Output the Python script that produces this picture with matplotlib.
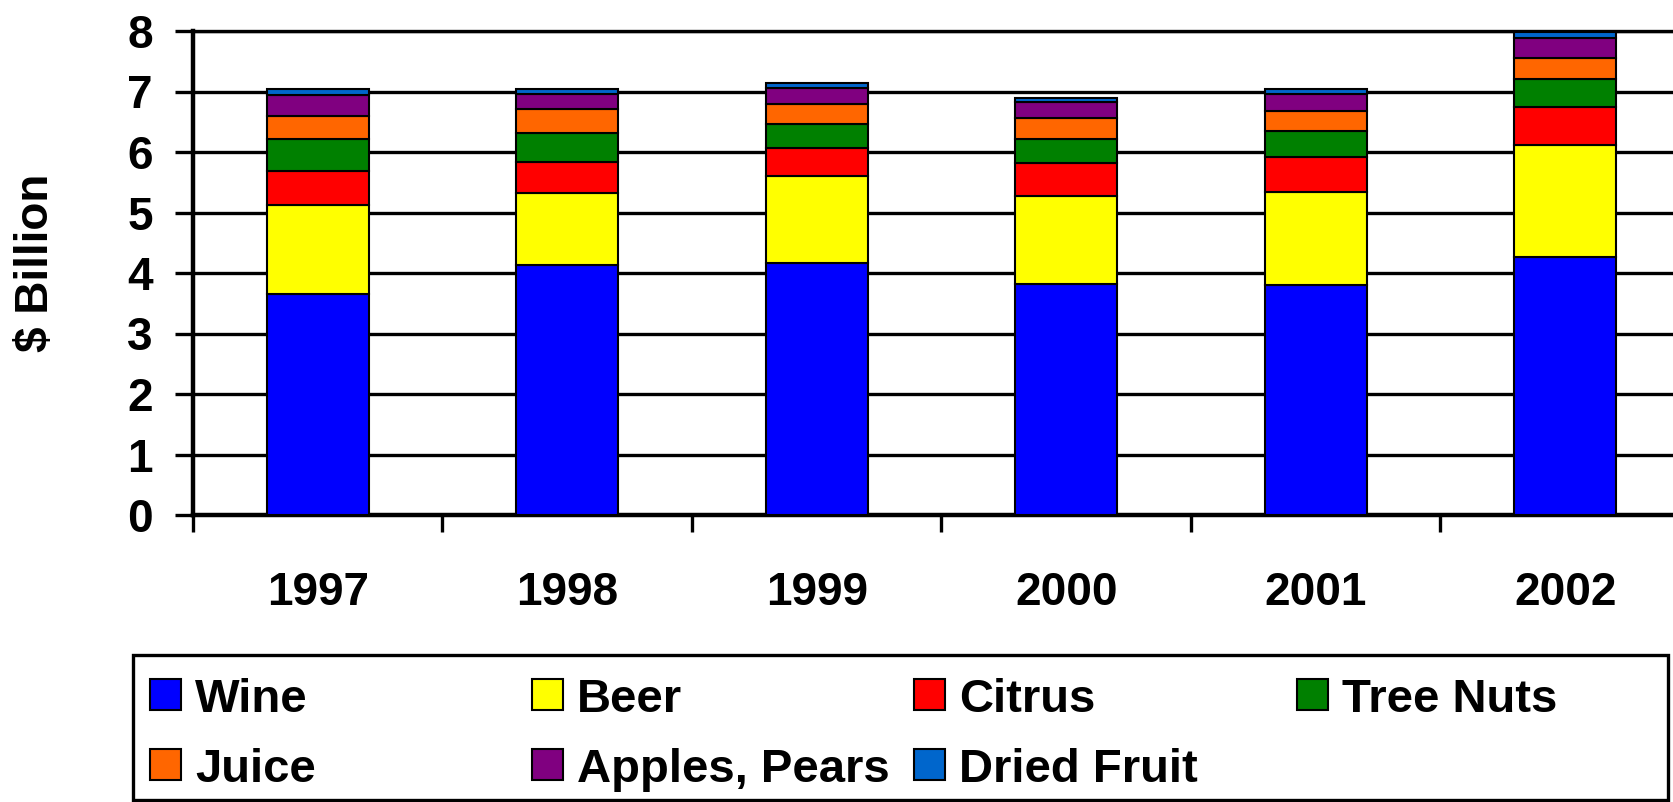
import matplotlib
matplotlib.use("Agg")
import matplotlib.pyplot as plt
from matplotlib.patches import Rectangle
import numpy as np

years = ['1997', '1998', '1999', '2000', '2001', '2002']
wine = [3.66, 4.13, 4.16, 3.82, 3.80, 4.26]
beer = [1.46, 1.19, 1.45, 1.46, 1.54, 1.85]
citrus = [0.56, 0.52, 0.46, 0.53, 0.57, 0.63]
tree_nuts = [0.53, 0.47, 0.40, 0.40, 0.43, 0.46]
juice = [0.39, 0.40, 0.33, 0.36, 0.33, 0.36]
apples_pears = [0.34, 0.25, 0.26, 0.26, 0.29, 0.33]
dried_fruit = [0.10, 0.08, 0.08, 0.07, 0.08, 0.09]

series_names = ['Wine', 'Beer', 'Citrus', 'Tree Nuts', 'Juice', 'Apples, Pears', 'Dried Fruit']
series_values = [wine, beer, citrus, tree_nuts, juice, apples_pears, dried_fruit]
colors = ['#0000FF', '#FFFF00', '#FF0000', '#008000', '#FF6600', '#800080', '#0066CC']

plt.rcParams['font.family'] = ['Liberation Sans', 'DejaVu Sans']
plt.rcParams['font.weight'] = 'bold'

W, H = 1674, 802
fig = plt.figure(figsize=(W / 100, H / 100), dpi=100)

ax_left = 193
cat_w = 249.5
y_top = 31
y_zero = 515
ax = fig.add_axes([ax_left / W, (H - y_zero) / H, 6 * cat_w / W, (y_zero - y_top) / H])

x = np.arange(len(years))
bottom = np.zeros(len(years))
for name, vals, c in zip(series_names, series_values, colors):
    ax.bar(x, vals, width=0.41, bottom=bottom, color=c, edgecolor='black',
           linewidth=1.5, zorder=3)
    bottom += np.array(vals)

ax.set_xlim(-0.5, 5.5)
ax.set_ylim(0, 8)
ax.set_yticks(range(0, 9))
ax.set_xticks(x)
ax.set_xticklabels(years)
ax.set_xticks(np.arange(-0.5, 6.0, 1.0), minor=True)

ax.yaxis.grid(True, color='black', linewidth=2.4, zorder=0)
ax.set_axisbelow(True)

ax.spines['right'].set_visible(False)
ax.spines['top'].set_linewidth(2.4)
ax.spines['left'].set_linewidth(3.2)
ax.spines['bottom'].set_linewidth(3.2)

ax.tick_params(axis='y', which='major', length=13, width=2.4, direction='out',
               pad=16, labelsize=33)
ax.tick_params(axis='x', which='major', length=0, pad=40, labelsize=33)
ax.tick_params(axis='x', which='minor', length=12, width=2.4, direction='out')
for lab in ax.get_xticklabels() + ax.get_yticklabels():
    lab.set_fontweight('bold')

fig.text(36 / W, 1 - 263 / H, r'\$ Billion', rotation=90, ha='center', va='center',
         fontsize=33, fontweight='bold')

# Legend box
fig.add_artist(Rectangle((133 / W, 1 - 800 / H), (1668 - 133) / W, (800 - 655) / H,
                         transform=fig.transFigure, facecolor='white',
                         edgecolor='black', linewidth=2.4))
col_x = [150, 532, 914, 1297]
row_y = [694.5, 764.5]
order = [(0, 0), (1, 0), (2, 0), (3, 0), (0, 1), (1, 1), (2, 1)]
psz = 31
for (ci, ri), name, c in zip(order, series_names, colors):
    px = col_x[ci]
    py = row_y[ri]
    fig.add_artist(Rectangle((px / W, 1 - (py + psz / 2) / H), psz / W, psz / H,
                             transform=fig.transFigure, facecolor=c,
                             edgecolor='black', linewidth=1.5))
    fig.text((px + 45) / W, 1 - py / H, name, ha='left', va='center_baseline',
             fontsize=34, fontweight='bold')

fig.savefig('out.png', dpi=100)
